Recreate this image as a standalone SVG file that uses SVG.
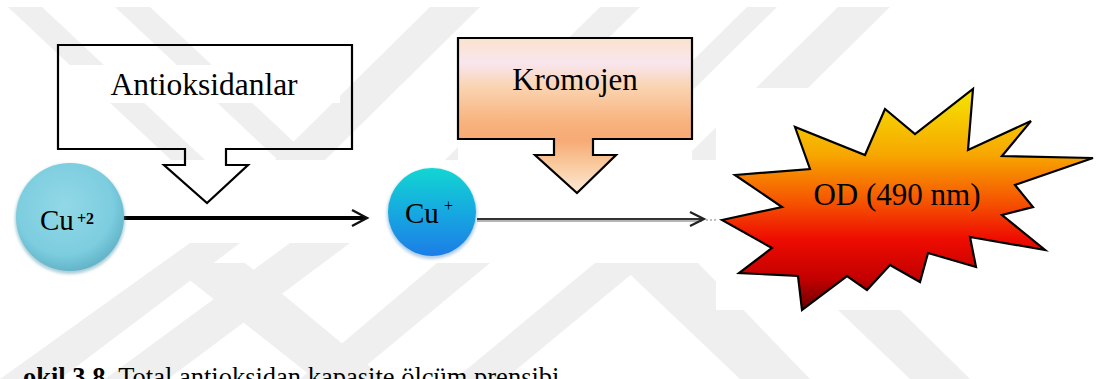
<svg xmlns="http://www.w3.org/2000/svg" width="1096" height="379" viewBox="0 0 1096 379">
<style>
.wm{fill:#efefef}
.wp{fill:#ffffff}
.lbl{font-family:"Liberation Serif","Times New Roman",serif;fill:#000}
.co{stroke:#000;stroke-width:2.2;stroke-linejoin:miter}
</style>
<defs>
<linearGradient id="gKrom" x1="0" y1="38" x2="0" y2="193" gradientUnits="userSpaceOnUse">
<stop offset="0" stop-color="#fbe3cb"/>
<stop offset="0.16" stop-color="#f8e6ef"/>
<stop offset="0.32" stop-color="#fad3b0"/>
<stop offset="0.55" stop-color="#f8b27c"/>
<stop offset="0.66" stop-color="#f7aa76"/>
<stop offset="0.8" stop-color="#f9c699"/>
<stop offset="1" stop-color="#fde9d6"/>
</linearGradient>
<linearGradient id="gStar" x1="0" y1="89" x2="0" y2="310" gradientUnits="userSpaceOnUse">
<stop offset="0" stop-color="#f5e600"/>
<stop offset="0.3" stop-color="#f7a600"/>
<stop offset="0.52" stop-color="#f55000"/>
<stop offset="0.68" stop-color="#ee0c00"/>
<stop offset="0.86" stop-color="#c20000"/>
<stop offset="1" stop-color="#6a0000"/>
</linearGradient>
<radialGradient id="gCu2" cx="0.45" cy="0.4" r="0.6">
<stop offset="0" stop-color="#92d8e7"/>
<stop offset="0.75" stop-color="#7ccddf"/>
<stop offset="1" stop-color="#64b5c9"/>
</radialGradient>
<linearGradient id="gCu1" x1="0" y1="0" x2="0" y2="1">
<stop offset="0" stop-color="#12d6d2"/>
<stop offset="0.5" stop-color="#16a9e0"/>
<stop offset="1" stop-color="#1c7de6"/>
</linearGradient>
<filter id="soft" x="-20%" y="-20%" width="140%" height="140%">
<feGaussianBlur stdDeviation="1.5"/>
</filter>
</defs>

<g id="watermark">
<polygon class="wm" points="8,7 42,7 205,160 171,160"/>
<polygon class="wm" points="115,7 150,7 313,160 278,160"/>
<polygon class="wm" points="430,7 480,7 325,160 275,160"/>
<polygon class="wm" points="600,7 640,7 485,160 445,160"/>
<polygon class="wm" points="747,7 777,7 622,160 592,160"/>
<polygon class="wm" points="838,7 890,7 735,160 683,160"/>
<polygon class="wm" points="0,379 60,379 240,243 190,243"/>
<polygon class="wm" points="105,379 168,379 350,243 290,243"/>
<polygon class="wm" points="168,263 245,263 385,379 315,379"/>
<polygon class="wm" points="300,379 350,379 490,263 437,263"/>
<polygon class="wm" points="455,379 505,379 645,263 595,263"/>
<polygon class="wm" points="618,263 698,263 810,379 740,379"/>
<polygon class="wm" points="838,310 900,310 970,379 910,379"/>
</g>

<g id="patches">
<rect class="wp" x="67" y="65" width="273" height="38"/>
<rect class="wp" x="10" y="163" width="122" height="115"/>
<rect class="wp" x="100" y="202" width="282" height="40"/>
<rect class="wp" x="380" y="165" width="338" height="98"/>
<rect class="wp" x="458" y="38" width="234" height="127"/>
<rect class="wp" x="716" y="88" width="380" height="222"/>
</g>

<g id="antioksidanlar">
<path class="co" fill="none" d="M58,45 H352 V149 H226 V165 H248 L207,203 L164,165 H185 V149 H58 Z"/>
<text class="lbl" x="204" y="95" font-size="31.5" text-anchor="middle">Antioksidanlar</text>
</g>

<g id="kromojen">
<path class="co" fill="url(#gKrom)" d="M458,38 H692 V139 H593 V155 H616 L577,193 L535,155 H554 V139 H458 Z"/>
<text class="lbl" x="575" y="90" font-size="31" text-anchor="middle">Kromojen</text>
</g>

<g id="connectors" fill="none" stroke-linecap="butt">
<line x1="112" y1="221" x2="364" y2="221" stroke="#8a8a8a" stroke-width="4" opacity="0.55" filter="url(#soft)"/>
<line x1="112" y1="218" x2="366" y2="218" stroke="#000" stroke-width="4"/>
<path d="M352,210 L367,218 L352,226" stroke="#111" stroke-width="2.4"/>
<line x1="477" y1="221" x2="702" y2="221" stroke="#b5b5b5" stroke-width="2"/>
<line x1="477" y1="219" x2="703" y2="219" stroke="#333" stroke-width="2"/>
<path d="M690,212 L704,219 L690,226" stroke="#222" stroke-width="2.2"/>
<line x1="706" y1="220" x2="717" y2="220" stroke="#aaa" stroke-width="1.5" stroke-dasharray="2,2"/>
</g>

<g id="cu2">
<circle cx="70" cy="219" r="55" fill="#5a9fb0" opacity="0.5" filter="url(#soft)"/>
<circle cx="70" cy="217" r="54" fill="url(#gCu2)"/>
<text class="lbl" x="40" y="230" font-size="29" fill="#1a2a2e">Cu</text>
<text class="lbl" x="77" y="224" font-size="16" font-weight="bold" fill="#1a2a2e">+2</text>
</g>

<g id="cu1">
<circle cx="432" cy="214" r="45" fill="#1a6fb8" opacity="0.35" filter="url(#soft)"/>
<circle cx="432" cy="212" r="44" fill="url(#gCu1)"/>
<text class="lbl" x="405" y="223" font-size="29" fill="#10303a">Cu</text>
<text class="lbl" x="444" y="211" font-size="16" fill="#10303a">+</text>
</g>

<g id="od">
<polygon class="co" fill="url(#gStar)" points="722,220 782,207 735,175 810,169 795,127 865,155 885,109 915,134 973,89 968,150 1031,121 1002,156 1093,158 1015,185 1033,207 1002,215 1045,250 970,237 976,267 928,253 920,282 890,265 867,290 847,276 802,310 798,276 739,273 772,248"/>
<text class="lbl" x="897" y="205" font-size="31" text-anchor="middle">OD (490 nm)</text>
</g>

<g id="caption">
<text class="lbl" x="23" y="386" font-size="26.5"><tspan font-weight="bold">okil 3.8.</tspan> Total antioksidan kapasite ölçüm prensibi</text>
</g>
</svg>
